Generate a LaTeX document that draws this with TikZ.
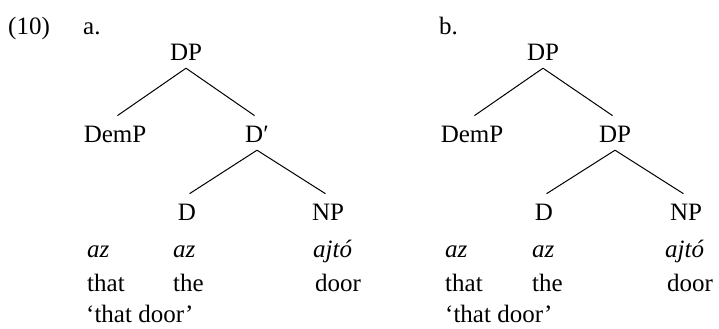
\documentclass[tikz,border=0pt]{standalone}
\usepackage{fontspec}
\setmainfont{Liberation Serif}
\begin{document}
\begin{tikzpicture}[x=1bp,y=-1bp,font=\fontsize{25bp}{30bp}\selectfont]
\tikzset{
  cat/.style={inner xsep=0pt,inner ysep=8bp,text height=16.5bp,text depth=0pt,anchor=base},
  word/.style={inner sep=0pt,anchor=base west},
  branch/.style={line width=1bp,shorten >=3bp}
}
\useasboundingbox (0,0) rectangle (719,328);
% labels
\node[word] (ex) at (8,34) {(10)};
\node[word] (la) at (83,34) {a.};
\node[word] (lb) at (439,34) {b.};
% tree a
\node[cat] (a0) at (186,60) {DP};
\node[cat] (a1) at (115,142) {DemP};
\node[cat] (a2) at (257,142) {D′};
\node[cat] (a3) at (187,220) {D};
\node[cat] (a4) at (328,220) {NP};
\draw[branch] (a0.south) -- (a1.north);
\draw[branch] (a0.south) -- (a2.north);
\draw[branch] (a2.south) -- (a3.north);
\draw[branch] (a2.south) -- (a4.north);
\node[word] (wa1) at (87,257) {\itshape az};
\node[word] (wa2) at (173,257) {\itshape az};
\node[word] (wa3) at (313,257) {\itshape ajtó};
\node[word] (ga1) at (87,291) {that};
\node[word] (ga2) at (173,291) {the};
\node[word] (ga3) at (315,291) {door};
\node[word] (ta) at (86,322) {‘that door’};
% tree b
\node[cat] (b0) at (543,60) {DP};
\node[cat] (b1) at (472,142) {DemP};
\node[cat] (b2) at (615,142) {DP};
\node[cat] (b3) at (544,220) {D};
\node[cat] (b4) at (686,220) {NP};
\draw[branch] (b0.south) -- (b1.north);
\draw[branch] (b0.south) -- (b2.north);
\draw[branch] (b2.south) -- (b3.north);
\draw[branch] (b2.south) -- (b4.north);
\node[word] (wb1) at (445,257) {\itshape az};
\node[word] (wb2) at (532,257) {\itshape az};
\node[word] (wb3) at (665,257) {\itshape ajtó};
\node[word] (gb1) at (445,291) {that};
\node[word] (gb2) at (532,291) {the};
\node[word] (gb3) at (667,291) {door};
\node[word] (tb) at (445,322) {‘that door’};
\end{tikzpicture}
\end{document}
